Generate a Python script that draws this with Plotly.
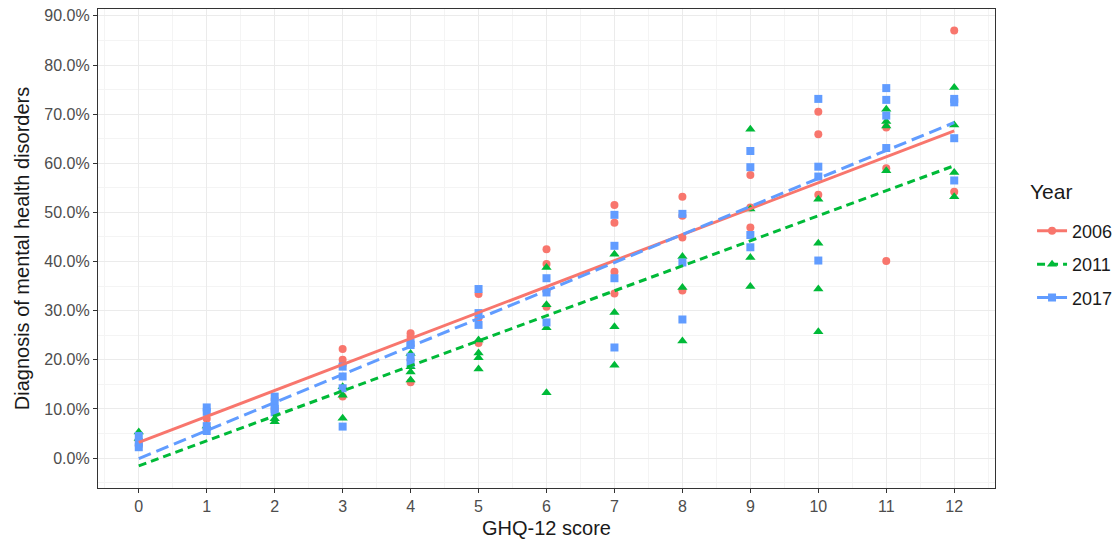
import plotly.graph_objects as go

# ---------------- data (percent) ----------------
years = ["2006", "2011", "2017"]

x_2006 = [0, 0, 1, 1, 2, 2, 3, 3, 3, 3, 4, 4, 4, 4, 5, 5, 5, 6, 6, 6, 6,
          7, 7, 7, 7, 8, 8, 8, 8, 9, 9, 9, 10, 10, 10, 11, 11, 11, 12, 12]
y_2006 = [3.5, 2.5, 8.0, 6.0, 12.0, 10.0, 22.2, 20.0, 19.0, 12.5,
          25.4, 24.7, 15.4, 20.0, 33.4, 23.4, 28.5, 42.5, 39.5, 30.8, 34.0,
          51.5, 47.9, 37.9, 33.5, 53.2, 49.3, 44.9, 34.1, 57.6, 46.9, 51.0,
          70.5, 65.9, 53.6, 67.3, 59.0, 40.1, 87.0, 54.2]

x_2011 = [0, 0, 1, 2, 2, 3, 3, 3, 4, 4, 4, 4, 5, 5, 5, 5, 6, 6, 6, 6,
          7, 7, 7, 7, 8, 8, 8, 9, 9, 9, 9, 10, 10, 10, 10, 11, 11, 11, 11,
          12, 12, 12, 12]
y_2011 = [5.3, 4.0, 6.5, 7.4, 8.0, 14.5, 12.8, 8.1,
          21.3, 18.6, 17.5, 15.9, 24.0, 21.4, 20.4, 18.1,
          38.8, 31.2, 26.5, 13.3, 41.5, 29.6, 26.7, 18.9,
          41.0, 34.7, 23.8, 66.9, 50.7, 40.8, 34.9,
          52.7, 43.7, 34.4, 25.7, 71.0, 68.5, 67.6, 58.5,
          75.4, 67.8, 58.1, 53.2]

x_2017 = [0, 0, 0, 1, 1, 1, 1, 2, 2, 2, 2, 3, 3, 3, 3, 4, 4, 4, 4, 5, 5, 5,
          6, 6, 6, 7, 7, 7, 7, 8, 8, 8, 9, 9, 9, 9, 10, 10, 10, 10,
          11, 11, 11, 11, 12, 12, 12, 12]
y_2017 = [4.5, 3.2, 2.2, 10.3, 9.4, 6.5, 5.5, 12.5, 11.0, 10.0, 9.3,
          18.6, 16.6, 14.2, 6.4, 23.4, 23.0, 20.6, 19.3, 34.4, 29.5, 27.1,
          36.6, 33.7, 27.6, 49.5, 43.2, 36.6, 22.5, 49.7, 39.8, 28.2,
          62.5, 59.2, 45.4, 42.9, 73.1, 59.3, 57.3, 40.2,
          75.3, 72.9, 69.7, 63.1, 73.1, 72.4, 65.1, 56.5]

# fitted (linear) trend lines, at score 0 and 12
fit_x = [0, 12]
fit_2006 = [3.2, 66.6]
fit_2011 = [-1.6, 59.5]
fit_2017 = [-0.1, 68.3]

x_ticks = list(range(0, 13))
y_ticks = [0, 10, 20, 30, 40, 50, 60, 70, 80, 90]

# ---------------- styles ----------------
colors = {"2006": "#F8766D", "2011": "#00BA38", "2017": "#619CFF"}
symbols = {"2006": "circle", "2011": "triangle-up", "2017": "square"}
dashes = {"2006": "solid", "2011": "8px,5px", "2017": "13px,6px"}
sizes = {"2006": 8, "2011": 9, "2017": 8}

pts = {"2006": (x_2006, y_2006), "2011": (x_2011, y_2011), "2017": (x_2017, y_2017)}
fits = {"2006": fit_2006, "2011": fit_2011, "2017": fit_2017}

fig = go.Figure()

for yr in years:
    xs, ys = pts[yr]
    fig.add_trace(go.Scatter(
        x=xs, y=ys, mode="markers", showlegend=False,
        marker=dict(color=colors[yr], symbol=symbols[yr], size=sizes[yr], line=dict(width=0)),
        hoverinfo="x+y"))

for yr in years:
    fig.add_trace(go.Scatter(
        x=fit_x, y=fits[yr], mode="lines", showlegend=False,
        line=dict(color=colors[yr], width=3, dash=dashes[yr])))

# legend entries (line + marker)
for yr in years:
    fig.add_trace(go.Scatter(
        x=[None], y=[None], mode="lines+markers", name=yr, legendgroup=yr,
        line=dict(color=colors[yr], width=3, dash=dashes[yr]),
        marker=dict(color=colors[yr], symbol=symbols[yr], size=sizes[yr], line=dict(width=0))))

font_family = "Liberation Sans, Arial, sans-serif"

fig.update_layout(
    width=1118, height=542,
    margin=dict(l=98, r=123, t=9, b=54, autoexpand=False),
    paper_bgcolor="white", plot_bgcolor="white",
    font=dict(family=font_family, color="#4D4D4D", size=16),
    showlegend=True,
    legend=dict(
        font=dict(size=18, color="#1A1A1A"),
        x=1.0413, xanchor="left", y=0.575, yanchor="top",
        tracegroupgap=7, itemwidth=30, bgcolor="rgba(0,0,0,0)"),
    annotations=[dict(
        text="Year", xref="paper", yref="paper", x=1.037, y=0.618,
        xanchor="left", yanchor="middle", showarrow=False,
        font=dict(size=21, color="#1A1A1A"))],
    xaxis=dict(
        range=[-0.6, 12.6], tickmode="array", tickvals=x_ticks,
        ticktext=[str(v) for v in x_ticks],
        showgrid=True, gridcolor="#EBEBEB", gridwidth=1.2,
        minor=dict(dtick=0.5, tick0=0, showgrid=True, gridcolor="#F4F4F4", gridwidth=0.7, ticklen=0),
        ticks="outside", ticklen=4, tickcolor="#333333", tickwidth=1.2,
        tickfont=dict(size=16, color="#4D4D4D"),
        ticklabeloverflow="allow",
        showline=True, linecolor="#333333", linewidth=1.3, mirror=True,
        zeroline=False,
        title=dict(text="GHQ-12 score", font=dict(size=20, color="#1A1A1A"), standoff=6)),
    yaxis=dict(
        range=[-6.1, 91.4], tickmode="array", tickvals=y_ticks,
        ticktext=[f"{v:.1f}%" for v in y_ticks],
        showgrid=True, gridcolor="#EBEBEB", gridwidth=1.2,
        minor=dict(dtick=5, tick0=0, showgrid=True, gridcolor="#F4F4F4", gridwidth=0.7, ticklen=0),
        ticks="outside", ticklen=4, tickcolor="#333333", tickwidth=1.2,
        tickfont=dict(size=16, color="#4D4D4D"),
        ticklabeloverflow="allow",
        showline=True, linecolor="#333333", linewidth=1.3, mirror=True,
        zeroline=False,
        title=dict(text="Diagnosis of mental health disorders", font=dict(size=20, color="#1A1A1A"), standoff=9)),
)

fig.write_html(
    "out.html",
    config={"displayModeBar": False},
    post_script="document.body.style.margin='0';document.body.style.overflow='hidden';",
)
